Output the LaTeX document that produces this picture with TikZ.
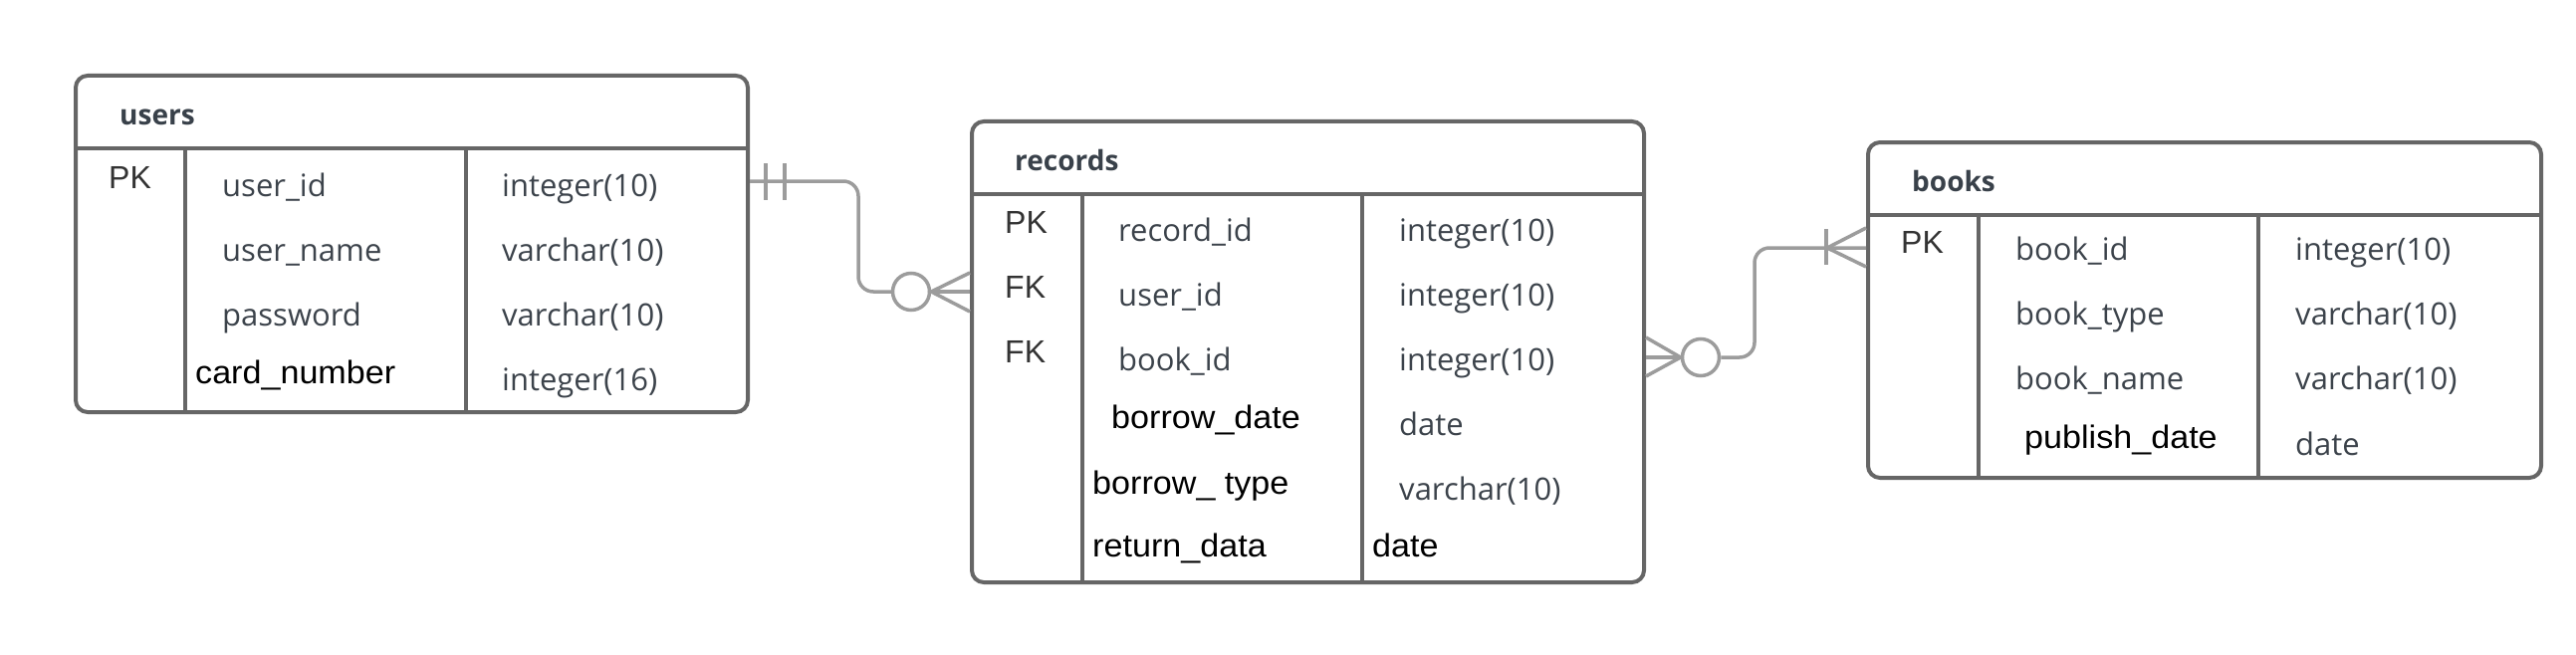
\documentclass[tikz,border=0pt]{standalone}
\usepackage{fontspec}
\newfontfamily\gfont{Open Sans}
\newfontfamily\bfontfam{Liberation Sans}
\newfontfamily\bfontwide[FakeStretch=1.05]{Liberation Sans}
\definecolor{boxc}{HTML}{666666}
\definecolor{connc}{HTML}{9C9C9C}
\definecolor{gtext}{HTML}{3C434B}
\definecolor{ttext}{HTML}{39414A}
\definecolor{ktext}{HTML}{333333}
\tikzset{
  tbl/.style={draw=boxc, line width=4pt, rounded corners=12pt, fill=white, inner sep=0pt, anchor=north west},
  sep/.style={draw=boxc, line width=4pt},
  conn/.style={draw=connc, line width=3.5pt},
  gt/.style={anchor=base west, inner sep=0pt, text=gtext, font=\gfont\fontsize{31}{36}\selectfont},
  bt/.style={anchor=base west, inner sep=0pt, text=black, font=\bfontwide\fontsize{32.5}{38}\selectfont},
  kt/.style={anchor=base west, inner sep=0pt, text=ktext, font=\bfontfam\fontsize{32}{37}\selectfont},
  tt/.style={anchor=base west, inner sep=0pt, text=ttext, font=\gfont\bfseries\fontsize{28}{34}\selectfont},
  ring/.style={circle, draw=connc, line width=3.5pt, fill=white, minimum size=37pt, inner sep=0pt}
}
\begin{document}
\begin{tikzpicture}[x=1pt,y=-1pt]
\useasboundingbox[fill=white] (0,0) rectangle (2587,658);
% ---------- users ----------
\node[tbl, minimum width=675pt, minimum height=338pt] (users) at (74,74) {};
\draw[sep] (74,149) -- (749,149);
\draw[sep] (186,149) -- (186,412);
\draw[sep] (467.5,149) -- (467.5,412);
\node[tt] (ut) at (120,126) {users};
\node[kt] (upk) at (109,189) {PK};
\node[gt] (un1) at (223,197) {user\_id};
\node[gt] (un2) at (223,262) {user\_name};
\node[gt] (un3) at (223,327) {password};
\node[bt] (un4) at (196,385) {card\_number};
\node[gt] (uy1) at (504,197) {integer(10)};
\node[gt] (uy2) at (504,262) {varchar(10)};
\node[gt] (uy3) at (504,327) {varchar(10)};
\node[gt] (uy4) at (504,392) {integer(16)};
% ---------- records ----------
\node[tbl, minimum width=675pt, minimum height=463pt] (records) at (974,120) {};
\draw[sep] (974,194.5) -- (1649,194.5);
\draw[sep] (1087,194.5) -- (1087,583);
\draw[sep] (1368,194.5) -- (1368,583);
\node[tt] (rt) at (1019,171) {records};
\node[kt] (rk1) at (1009,234) {PK};
\node[kt] (rk2) at (1009,299) {FK};
\node[kt] (rk3) at (1009,364) {FK};
\node[gt] (rn1) at (1123,242) {record\_id};
\node[gt] (rn2) at (1123,307) {user\_id};
\node[gt] (rn3) at (1123,372) {book\_id};
\node[bt] (rn4) at (1116,430) {borrow\_date};
\node[bt] (rn5) at (1097,496) {borrow\_ type};
\node[bt] (rn6) at (1097,559) {return\_data};
\node[gt] (ry1) at (1405,242) {integer(10)};
\node[gt] (ry2) at (1405,307) {integer(10)};
\node[gt] (ry3) at (1405,372) {integer(10)};
\node[gt] (ry4) at (1405,437) {date};
\node[gt] (ry5) at (1405,502) {varchar(10)};
\node[bt] (ry6) at (1378,559) {date};
% ---------- books ----------
\node[tbl, minimum width=676pt, minimum height=337pt] (books) at (1874,141) {};
\draw[sep] (1874,216) -- (2550,216);
\draw[sep] (1987,216) -- (1987,478);
\draw[sep] (2268,216) -- (2268,478);
\node[tt] (bt) at (1920,192) {books};
\node[kt] (bpk) at (1909,254) {PK};
\node[gt] (bn1) at (2024,261) {book\_id};
\node[gt] (bn2) at (2024,326) {book\_type};
\node[gt] (bn3) at (2024,391) {book\_name};
\node[bt] (bn4) at (2033,450) {publish\_date};
\node[gt] (by1) at (2305,261) {integer(10)};
\node[gt] (by2) at (2305,326) {varchar(10)};
\node[gt] (by3) at (2305,391) {varchar(10)};
\node[gt] (by4) at (2305,457) {date};
% ---------- connector users -> records ----------
\coordinate (a0) at (users.east |- 0,182);
\coordinate (a1) at (records.west |- 0,293);
\node[ring] (ra) at (915,293) {};
\draw[conn, rounded corners=15pt] (a0) -- (862,182) -- (862,293) -- (ra.west);
\draw[conn] (769,164) -- (769,201);
\draw[conn] (788,164) -- (788,201);
\draw[conn] (records.west |- 0,274) -- (ra.east) -- (records.west |- 0,313);
\draw[conn] (ra.east) -- (a1);
% ---------- connector records -> books ----------
\coordinate (b0) at (records.east |- 0,359);
\coordinate (b1) at (books.west |- 0,249);
\node[ring] (rb) at (1708,359) {};
\draw[conn] (records.east |- 0,339) -- (rb.west) -- (records.east |- 0,378);
\draw[conn] (b0) -- (rb.west);
\draw[conn, rounded corners=15pt] (rb.east) -- (1762,359) -- (1762,249) -- (b1);
\draw[conn] (books.west |- 0,229) -- (1835,249) -- (books.west |- 0,268);
\draw[conn] (1834,230) -- (1834,266);
\end{tikzpicture}
\end{document}
